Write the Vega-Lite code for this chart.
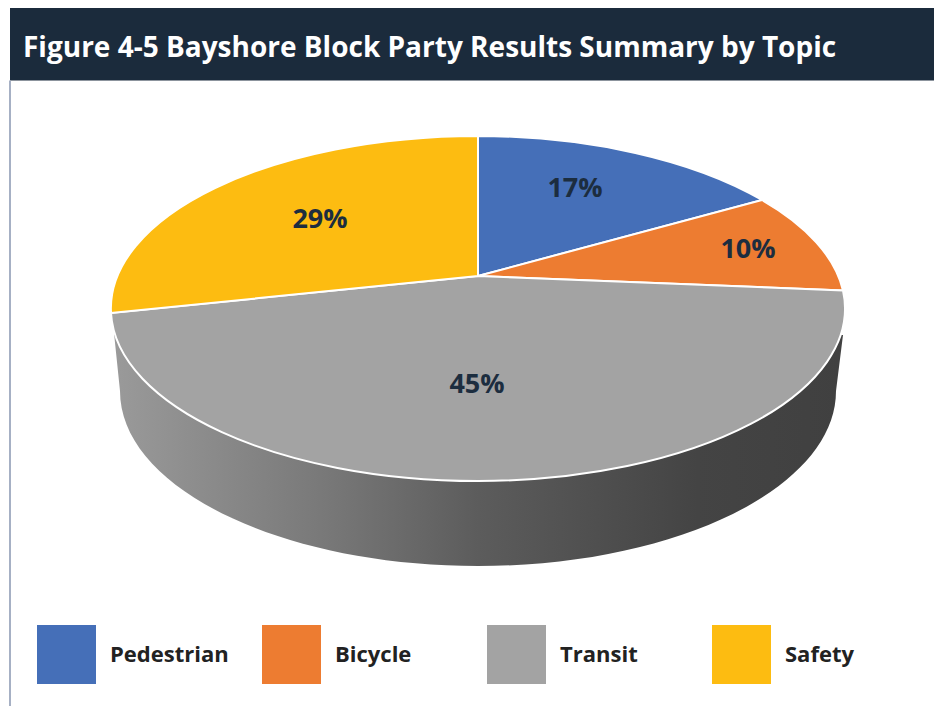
{"$schema":"https://vega.github.io/schema/vega-lite/v6.json","width":934,"height":706,"padding":0,"autosize":{"type":"none"},"background":"#ffffff","config":{"view":{"stroke":null}},
"title":{"text":"Figure 4-5 Bayshore Block Party Results Summary by Topic","anchor":"start","frame":"group","orient":"top","offset":-63,"dx":23,"color":"#ffffff","font":"Open Sans","fontWeight":"bold","fontSize":28,"zindex":1},
"data":{"values":[{"topic":"Pedestrian","share":0.17},{"topic":"Bicycle","share":0.10},{"topic":"Transit","share":0.45},{"topic":"Safety","share":0.29}]},
"layer":[
{"data":{"values":[{"part":"bar"}]},"mark":{"type":"point","filled":true,"opacity":1,"size":4,"shape":"M-457,-345H467V-272.5H-457Z","fill":"#1b2b3c","stroke":null},"encoding":{}},
{"data":{"values":[{"part":"border"}]},"mark":{"type":"point","filled":true,"opacity":1,"size":4,"shape":"M-458,-272.5H-456V353H-458Z","fill":"#a6b0c4","stroke":null},"encoding":{}},
{"data":{"values":[{"part":"side"}]},"mark":{"type":"point","filled":true,"opacity":1,"size":4,"shape":"M-353,-20L-347,38A358,175 0 0 0 369,38L376,-18Z","stroke":null,"fill":{"gradient":"linear","x1":0,"y1":0,"x2":1,"y2":0,"stops":[{"offset":0,"color":"#9a9a9a"},{"offset":0.3,"color":"#777777"},{"offset":0.5,"color":"#5c5c5c"},{"offset":0.8,"color":"#444444"},{"offset":1,"color":"#404040"}]}},"encoding":{}},
{"mark":{"type":"point","filled":true,"opacity":1,"size":4,"stroke":"#ffffff","strokeWidth":2},
"encoding":{
"color":{"field":"topic","type":"nominal","scale":{"domain":["Pedestrian","Bicycle","Transit","Safety"],"range":["#456fb8","#ed7c31","#a3a3a3","#fdbc11"]},"legend":{"title":null,"orient":"none","legendX":37,"legendY":625,"columns":4,"direction":"horizontal","gridAlign":"all","columnPadding":33,"symbolType":"square","symbolSize":3481,"symbolStrokeWidth":0,"labelFont":"Open Sans","labelFontWeight":"bold","labelFontSize":22,"labelColor":"#222222","labelOffset":14,"encode":{"labels":{"update":{"dy":{"value":2}}}}}},
"shape":{"field":"share","type":"nominal","scale":{"domain":[0.17,0.10,0.45,0.29],"range":["M11,-77L11,-217A367,172.5 0 0 1 295,-153Z","M11,-77L295,-153A367,172.5 0 0 1 376,-62.5Z","M11,-77L376,-62.5A367,172.5 0 0 1 11,128A367,172.5 0 0 1 -356,-40Z","M11,-77L-356,-40A367,172.5 0 0 1 11,-217Z"]},"legend":null}}},
{"mark":{"type":"text","font":"Open Sans","fontWeight":"bold","fontSize":27,"color":"#1c2d3f","baseline":"middle","align":"center"},
"encoding":{
"x":{"field":"share","type":"quantitative","axis":null,"scale":{"domain":[0.10,0.17,0.29,0.45],"range":[748,575,320,477],"nice":false,"zero":false}},
"y":{"field":"share","type":"quantitative","axis":null,"scale":{"domain":[0.10,0.17,0.29,0.45],"range":[250,189,220,385],"nice":false,"zero":false}},
"text":{"field":"share","type":"quantitative","format":".0%"}}}
]}
